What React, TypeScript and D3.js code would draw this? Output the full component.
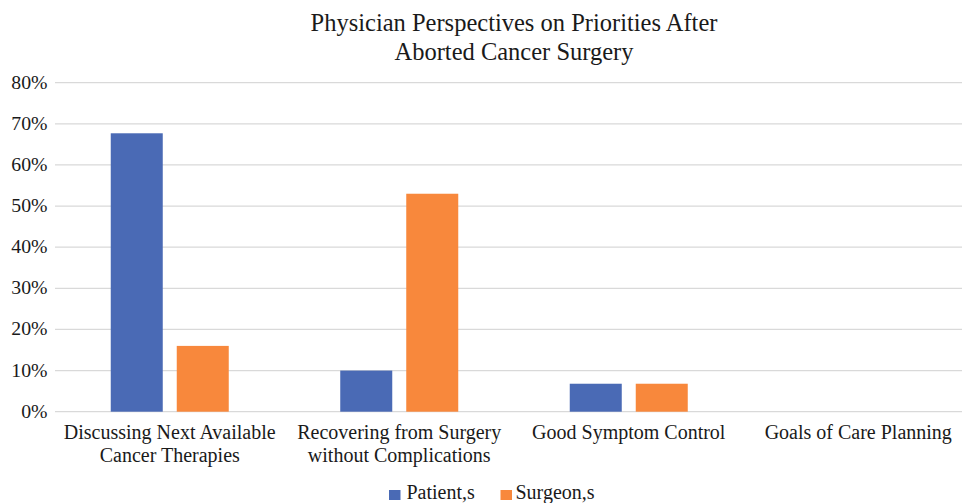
import React, { useEffect, useRef } from 'react';
import * as d3 from 'd3';

const categories = [
  ['Discussing Next Available', 'Cancer Therapies'],
  ['Recovering from Surgery', 'without Complications'],
  ['Good Symptom Control'],
  ['Goals of Care Planning'],
];
const seriesNames = ['Patient,s', 'Surgeon,s'];
const patientValues = [67.7, 10, 6.8, 0];
const surgeonValues = [16, 53, 6.8, 0];
const yTicks = [0, 10, 20, 30, 40, 50, 60, 70, 80];
const colors = ['#4A6AB5', '#F8883C'];

const WIDTH = 962;
const HEIGHT = 503;
const FONT = "'Liberation Serif', Tinos, 'Times New Roman', Times, serif";

export default function App() {
  const svgRef = useRef<SVGSVGElement>(null);

  useEffect(() => {
    if (!svgRef.current) return;
    const svg = d3.select(svgRef.current);
    svg.selectAll('*').remove();

    const left = 55;
    const top = 82.7;
    const bottom = 411.7;
    const bandW = 229.5;

    const keys = categories.map((_, i) => String(i));
    const x0 = d3.scaleBand<string>()
      .domain(keys)
      .range([left, left + bandW * keys.length])
      .padding(0);
    const groupW = 118;
    const x1 = d3.scaleBand<string>()
      .domain(seriesNames)
      .range([0, groupW])
      .paddingInner(14 / 66)
      .paddingOuter(0);
    const y = d3.scaleLinear().domain([0, 80]).range([bottom, top]);

    // gridlines
    svg.append('g')
      .selectAll('line')
      .data(yTicks)
      .join('line')
      .attr('x1', left)
      .attr('x2', WIDTH)
      .attr('y1', d => y(d))
      .attr('y2', d => y(d))
      .attr('stroke', '#d9d9d9')
      .attr('stroke-width', 1.3);

    // y tick labels
    svg.append('g')
      .selectAll('text')
      .data(yTicks)
      .join('text')
      .attr('x', 47.5)
      .attr('y', d => y(d) + 6)
      .attr('text-anchor', 'end')
      .style('font-family', FONT)
      .style('font-size', '19.8px')
      .attr('fill', '#1a1a1a')
      .text(d => `${d}%`);

    // bars
    const series = [patientValues, surgeonValues];
    series.forEach((vals, si) => {
      svg.append('g')
        .selectAll('rect')
        .data(vals)
        .join('rect')
        .attr('x', (_, i) => x0(keys[i])! + (x0.bandwidth() - groupW) / 2 + x1(seriesNames[si])!)
        .attr('y', d => y(d))
        .attr('width', x1.bandwidth())
        .attr('height', d => bottom - y(d))
        .attr('fill', colors[si]);
    });

    // category labels
    const cat = svg.append('g');
    categories.forEach((lines, i) => {
      const cx = x0(keys[i])! + x0.bandwidth() / 2;
      lines.forEach((ln, li) => {
        cat.append('text')
          .attr('x', cx)
          .attr('y', 439 + li * 23)
          .attr('text-anchor', 'middle')
          .style('font-family', FONT)
          .style('font-size', '20px')
          .attr('fill', '#1a1a1a')
          .text(ln);
      });
    });

    // title
    const title = ['Physician Perspectives on Priorities After', 'Aborted Cancer Surgery'];
    title.forEach((t, i) => {
      svg.append('text')
        .attr('x', 514)
        .attr('y', 30.5 + i * 29.5)
        .attr('text-anchor', 'middle')
        .style('font-family', FONT)
        .style('font-size', '24.5px')
        .attr('fill', '#1a1a1a')
        .text(t);
    });

    // legend
    const legendX = [389, 500.5];
    seriesNames.forEach((name, i) => {
      svg.append('rect')
        .attr('x', legendX[i])
        .attr('y', 490)
        .attr('width', 11.5)
        .attr('height', 10)
        .attr('fill', colors[i]);
      svg.append('text')
        .attr('x', legendX[i] + (i === 0 ? 17.5 : 15))
        .attr('y', 499)
        .style('font-family', FONT)
        .style('font-size', '20px')
        .attr('fill', '#1a1a1a')
        .text(name);
    });
  }, []);

  return (
    <svg
      ref={svgRef}
      width={WIDTH}
      height={HEIGHT}
      style={{ position: 'absolute', left: 0, top: 0, background: '#fff' }}
    />
  );
}
